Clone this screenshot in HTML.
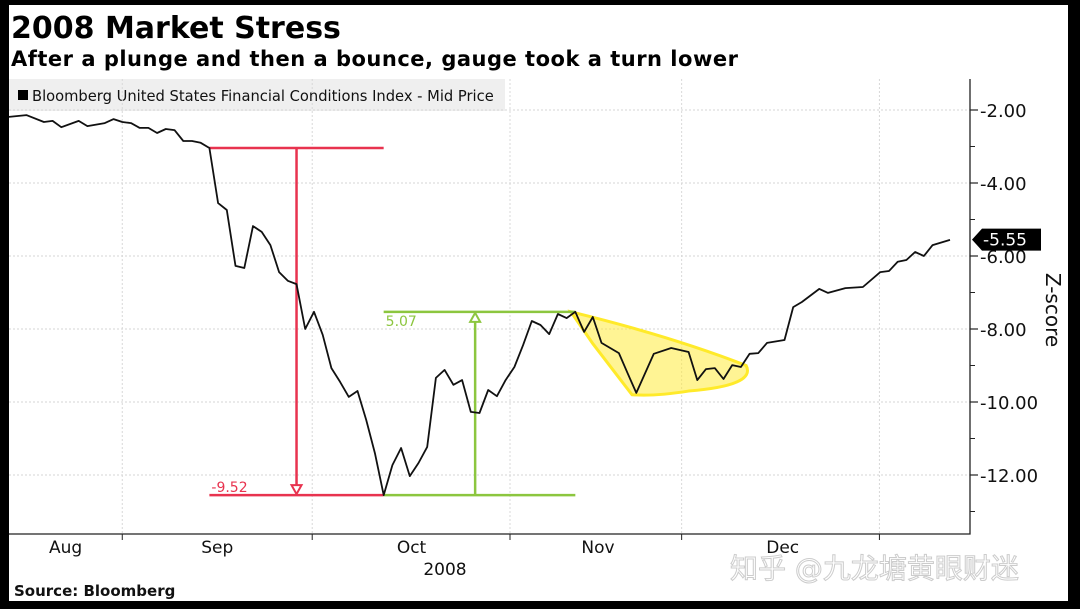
<!DOCTYPE html>
<html><head><meta charset="utf-8"><style>
html,body{margin:0;padding:0;background:#000;}
#wrap{position:absolute;left:9px;top:5px;width:1059px;height:596px;background:#fff;overflow:hidden;}
svg{position:absolute;left:0;top:0;}
text{font-family:"DejaVu Sans","Liberation Sans","Noto Sans CJK SC",sans-serif;}
</style></head><body>
<div id="wrap"></div>
<svg id="chart" width="1080" height="609">
  <text x="11" y="38" font-size="30" font-weight="bold" fill="#000">2008 Market Stress</text>
  <text x="11" y="66" font-size="21" font-weight="bold" fill="#000" letter-spacing="0.5">After a plunge and then a bounce, gauge took a turn lower</text>
  <rect x="9" y="79" width="496" height="32" fill="#efefef"/>
  <rect x="18" y="90" width="10" height="10" fill="#000"/>
  <text x="32" y="101" font-size="14.7" fill="#111">Bloomberg United States Financial Conditions Index - Mid Price</text>
  <g id="grid"></g>
  <g id="annot"></g>
  <g id="series"></g>
  <g id="axes"></g>
  <text x="445" y="575" font-size="17" text-anchor="middle" fill="#111">2008</text>
  <text x="14" y="596" font-size="15" font-weight="bold" fill="#111">Source: Bloomberg</text>
  <text x="1046" y="310" font-size="20" fill="#111" text-anchor="middle" transform="rotate(90 1046 310)">Z-score</text>
  <text x="730" y="578" font-size="28" fill="#fff" stroke="#ccc" stroke-width="1">知乎 @九龙塘黄眼财迷</text>
</svg>
<script>
const days=[0,2,4,5,6,8,9,11,12,13,14,15,16,17,18,19,20,21,22,23,24,25,26,27,28,29,30,31,32,33,34,35,36,37,38,39,40,41,42,43,44,45,46,47,48,49,50,51,52,53,54,55,56,57,58,59,60,61,
62,63,64,65,66,67,68,69,70,71,72,74,76,78,79,80,81,82,83,84,85,86,87,89,90,91,93,94,96,98,100,101,102,103,104,105,106,108];
const values=[-2.19,-2.14,-2.33,-2.30,-2.47,-2.30,-2.44,-2.36,-2.25,-2.33,-2.36,-2.49,-2.49,-2.63,-2.52,-2.55,-2.85,-2.85,-2.90,-3.04,-4.55,-4.74,-6.27,-6.33,-5.18,-5.34,-5.70,-6.44,-6.68,-6.77,-8.00,-7.53,-8.16,-9.07,-9.45,-9.86,-9.70,-10.49,-11.40,-12.55,-11.73,-11.26,-12.03,-11.67,-11.23,-9.34,-9.12,-9.53,-9.40,-10.27,-10.30,-9.67,-9.84,-9.40,-9.04,-8.44,-7.78,-7.89,
-8.14,-7.59,-7.70,-7.53,-8.08,-7.67,-8.38,-8.52,-8.66,-9.21,-9.75,-8.68,-8.52,-8.63,-9.40,-9.10,-9.07,-9.37,-8.99,-9.04,-8.68,-8.66,-8.38,-8.30,-7.40,-7.26,-6.90,-7.01,-6.88,-6.85,-6.44,-6.41,-6.16,-6.11,-5.89,-6.00,-5.70,-5.56];
const yTicks=[-2,-4,-6,-8,-10,-12];
const yTickLabels=["-2.00","-4.00","-6.00","-8.00","-10.00","-12.00"];
const yMinor=[-3,-5,-7,-9,-11,-13];
const monthLabels=["Aug","Sep","Oct","Nov","Dec"];
const monthMid=[6.5,23.9,46.2,67.6,88.8];
const monthBounds=[13,34.8,57.5,77.2,99.9];
const lastValue=-5.55;

const NS="http://www.w3.org/2000/svg";
const X0=9,X1=970,Y0=79,Y1=534;
const xs=d=>9+d*(941/108);
const ys=v=>110+(-2-v)*36.5;
function mk(tag,attrs,parent){const e=document.createElementNS(NS,tag);for(const k in attrs)e.setAttribute(k,attrs[k]);parent.appendChild(e);return e;}
const grid=document.getElementById('grid'),axes=document.getElementById('axes'),series=document.getElementById('series'),annot=document.getElementById('annot');

yTicks.forEach((v,i)=>{
  const g=mk('line',{x1:X0,x2:X1,y1:ys(v),y2:ys(v),stroke:'#d4d4d4','stroke-dasharray':'2,2'},grid);
  
  
  const t=mk('line',{x1:X1,x2:X1+8,y1:ys(v),y2:ys(v),stroke:'#222','stroke-width':1.2},axes);
  
  
  const l=mk('text',{x:X1+10,y:ys(v)+7,'font-size':18,fill:'#111'},axes);
  l.textContent=yTickLabels[i];
  
  
});
yMinor.forEach(v=>{
  const t=mk('line',{x1:X1,x2:X1+5,y1:ys(v),y2:ys(v),stroke:'#222'},axes);
  
  
});
monthBounds.forEach(d=>{
  const g=mk('line',{x1:xs(d),x2:xs(d),y1:Y0,y2:Y1,stroke:'#d8d8d8','stroke-dasharray':'2,2'},grid);
  
  
  const t=mk('line',{x1:xs(d),x2:xs(d),y1:Y1,y2:Y1+6,stroke:'#222'},axes);
  
  
});
monthLabels.forEach((m,i)=>{
  const l=mk('text',{x:xs(monthMid[i]),y:553,'font-size':17,'text-anchor':'middle',fill:'#111'},axes);
  l.textContent=m;
  
  
});
const ax=mk('path',{d:`M${X1},${Y0} V${Y1} H${X0}`,stroke:'#222','stroke-width':1.3,fill:'none'},axes);



// annotations
const red='#e8334f',green='#8cc63f';
const yTop=ys(values[19]), yLow=ys(-12.55), yHi=ys(-7.53);
const xa=xs(days[19]), xLow=xs(days[39]), xHiEnd=xs(days[61]);
const yel=mk('path',{d:`M${xs(64.5)},${ys(-7.53)} Q${xs(76)},${ys(-8.2)} ${xs(84.6)},${ys(-9.0)} Q${xs(85.8)},${ys(-9.55)} ${xs(78)},${ys(-9.7)} Q${xs(74)},${ys(-9.85)} ${xs(71.5)},${ys(-9.8)} L${xs(67)},${ys(-8.4)} Z`,fill:'rgba(255,235,60,0.55)',stroke:'#ffea2a','stroke-width':3},annot);


[[xa,yTop,xs(43),yTop,red,'red-top-line'],[xa,yLow,xLow,yLow,red,'red-bottom-line'],[xLow,yLow,xHiEnd,yLow,green,'green-bottom-line'],[xLow,yHi,xHiEnd,yHi,green,'green-top-line'],[xs(33),yTop,xs(33),yLow-8,red,'red-arrow-shaft'],[xs(53.5),yLow,xs(53.5),yHi+8,green,'green-arrow-shaft']].forEach(a=>{
  const l=mk('line',{x1:a[0],y1:a[1],x2:a[2],y2:a[3],stroke:a[4],'stroke-width':2.5},annot);
  
  
});
const ar1=mk('path',{d:`M${xs(33)-5},${yLow-10} L${xs(33)+5},${yLow-10} L${xs(33)},${yLow-1} Z`,fill:'#fff',stroke:red,'stroke-width':2},annot);


const ar2=mk('path',{d:`M${xs(53.5)-5},${yHi+10} L${xs(53.5)+5},${yHi+10} L${xs(53.5)},${yHi+1} Z`,fill:'#fff',stroke:green,'stroke-width':2},annot);


const t1=mk('text',{x:xa+2,y:yLow-3,'font-size':14,fill:red},annot);
t1.textContent='-9.52';


const t2=mk('text',{x:xLow+2,y:yHi+14,'font-size':14,fill:green},annot);
t2.textContent='5.07';



// series
const pts=days.map((d,i)=>`${xs(d).toFixed(1)},${ys(values[i]).toFixed(1)}`).join(' ');
const pl=mk('polyline',{points:pts,fill:'none',stroke:'#111','stroke-width':1.8,'stroke-linejoin':'round'},series);



// last value callout
const yl=ys(lastValue);
const cb=mk('path',{d:`M${X1+2},${yl} L${X1+12},${yl-11} H1041 V${yl+11} H${X1+12} Z`,fill:'#000'},axes);


const ct=mk('text',{x:X1+13,y:yl+6,'font-size':17,fill:'#fff'},axes);
ct.textContent=lastValue.toFixed(2);


</script>
</body></html>
